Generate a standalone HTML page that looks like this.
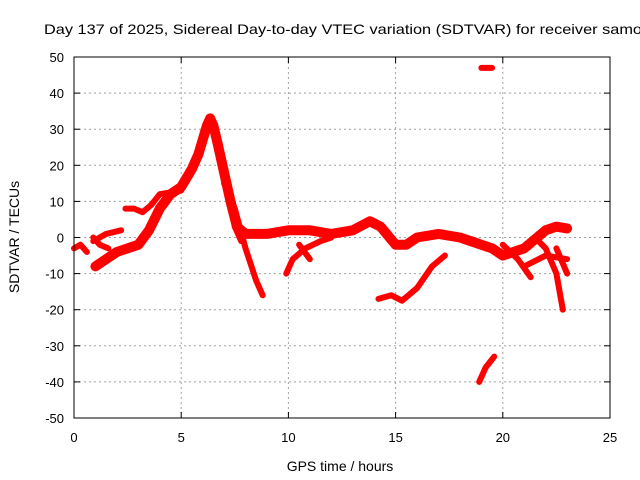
<!DOCTYPE html>
<html><head><meta charset="utf-8"><style>body{margin:0;background:#fff}svg{display:block;font-family:"Liberation Sans",Arial,sans-serif}</style></head>
<body>
<svg id="chart" width="640" height="480" viewBox="0 0 640 480" xmlns="http://www.w3.org/2000/svg">
<rect width="640" height="480" fill="#fff"/>
<text x="44" y="34" font-size="14" textLength="598" lengthAdjust="spacingAndGlyphs">Day 137 of 2025, Sidereal Day-to-day VTEC variation (SDTVAR) for receiver samo</text>
<g id="grid"></g><g id="series"></g><g id="axes"></g>
<text x="340" y="471" font-size="14" text-anchor="middle">GPS time / hours</text>
<text transform="translate(19,237) rotate(-90)" font-size="14" text-anchor="middle">SDTVAR / TECUs</text>
</svg>
<script>
const xTicks=[0,5,10,15,20,25];
const yTicks=[-50,-40,-30,-20,-10,0,10,20,30,40,50];
const mainTrace=[[1.0,-8],[1.5,-6],[2.0,-4],[2.5,-3],[3.0,-2],[3.5,2],[4.0,8],[4.5,12],[5.0,14],[5.5,19],[5.8,23],[6.0,27],[6.2,31],[6.35,33],[6.5,31],[6.7,26],[7.0,18],[7.3,10],[7.6,3],[8.0,1],[9,1],[10,2],[11,2],[12,1],[13,2],[13.8,4.5],[14.3,3],[15,-2],[15.5,-2],[16,0],[17,1],[18,0],[19,-2],[19.5,-3],[20,-5],[21,-3],[22,2],[22.5,3],[23,2.5]];
const earlyA=[[0,-3],[0.3,-2],[0.6,-4]];
const earlyB=[[0.9,-1],[1.5,1],[2.2,2]];
const earlyE=[[0.9,0],[1.2,-2],[1.6,-3]];
const earlyC=[[2.4,8],[2.8,8],[3.2,7],[3.6,9],[4,12],[5,13]];
const descentA=[[7.0,15],[7.5,8],[8,-3],[8.5,-12],[8.8,-16]];
const descentB=[[7.5,3],[7.8,-1]];
const branchA=[[9.9,-10],[10.2,-6],[10.8,-3],[11.5,-1],[12,0]];
const branchB=[[10.5,-2],[11,-6]];
const dipTrace=[[14.2,-17],[14.8,-16],[15.3,-17.5],[16,-14],[16.7,-8],[17.3,-5]];
const lowTrace=[[18.9,-40],[19.2,-36],[19.6,-33]];
const highTrace=[[19.0,47],[19.5,47]];
const lateA=[[20,-2],[20.7,-6],[21.3,-11]];
const lateB=[[21.5,0],[22,-3],[22.5,-10],[22.8,-20]];
const lateC=[[21,-8],[22,-5],[23,-6]];
const lateD=[[22.5,-3],[23,-10]];
const allSeries=[mainTrace,earlyA,earlyB,earlyE,earlyC,descentA,descentB,branchA,branchB,dipTrace,lowTrace,highTrace,lateA,lateB,lateC,lateD];
const X0=74,X1=610,Y0=418,Y1=57;
const xs=v=>X0+(v-0)/(25-0)*(X1-X0);
const ys=v=>Y0-(v+50)/100*(Y0-Y1);
const NS="http://www.w3.org/2000/svg";
function mk(t,a,p){const e=document.createElementNS(NS,t);for(const k in a)e.setAttribute(k,a[k]);p.appendChild(e);return e;}
const g=document.getElementById('grid'),ax=document.getElementById('axes'),sg=document.getElementById('series');
xTicks.forEach(t=>{const x=xs(t);
 if(t>0&&t<25){const l=mk('line',{x1:x,x2:x,y1:Y1,y2:Y0,stroke:'#a0a0a0','stroke-dasharray':'2,3'},g);
 
 }
 mk('line',{x1:x,x2:x,y1:Y0,y2:Y0-6,stroke:'#000'},ax);mk('line',{x1:x,x2:x,y1:Y1,y2:Y1+6,stroke:'#000'},ax);
 const tx=mk('text',{x:x,y:Y0+24,'font-size':13,'text-anchor':'middle'},ax);tx.textContent=t;
 
 });
yTicks.forEach(t=>{const y=ys(t);
 if(t>-50&&t<50){const l=mk('line',{x1:X0,x2:X1,y1:y,y2:y,stroke:'#a0a0a0','stroke-dasharray':'2,3'},g);
 
 }
 mk('line',{x1:X0,x2:X0+6,y1:y,y2:y,stroke:'#000'},ax);mk('line',{x1:X1,x2:X1-6,y1:y,y2:y,stroke:'#000'},ax);
 const tx=mk('text',{x:X0-10,y:y+5,'font-size':13,'text-anchor':'end'},ax);tx.textContent=t;
 
 });
const fr=mk('rect',{x:X0,y:Y1,width:X1-X0,height:Y0-Y1,fill:'none',stroke:'#000'},ax);


allSeries.forEach((s,i)=>{const p=mk('polyline',{points:s.map(d=>xs(d[0])+','+ys(d[1])).join(' '),fill:'none',stroke:'#f00','stroke-width':i===0?10:6,'stroke-linejoin':'round','stroke-linecap':'round'},sg);
 
 });
</script>
</body></html>
